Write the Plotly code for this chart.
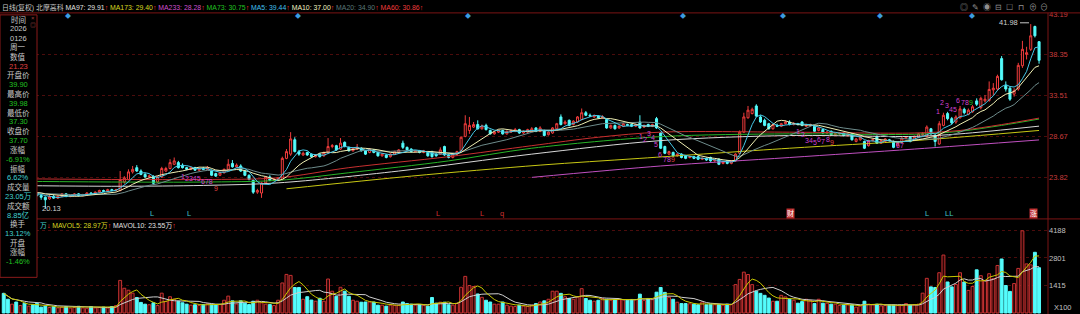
import plotly.graph_objects as go
import pandas as pd

W, H = 1080, 314

# ---------------- data ----------------
opens = [
    22.6, 22.3, 22.1, 22.3, 22.0, 22.1, 21.9, 22.1,
    22.0, 21.7, 21.5, 21.3, 21.6, 21.4, 21.6, 21.9, 21.6, 21.7,
    21.9, 21.7, 21.8, 22.0, 21.9, 22.1, 22.3, 22.2, 22.4, 22.3,
    22.3, 23.3, 23.6, 24.5, 25.0, 24.6, 24.2, 23.9, 23.97, 23.3,
    23.9, 24.6, 24.9, 25.4, 25.6, 25.3, 25.0, 24.8, 25.0, 24.7,
    24.9, 24.8, 24.6, 24.3, 24.1, 24.4, 24.8, 25.5, 25.1, 25.2,
    24.6, 24.1, 23.5, 22.1, 22.0, 23.2, 23.9, 23.5, 23.6, 23.6,
    26.1, 26.6, 28.3, 26.9, 26.5, 26.8, 26.6, 26.3, 26.6, 26.4,
    26.8, 27.5, 27.6, 27.2, 28.0, 27.4, 27.0, 27.2, 27.3, 27.0,
    26.8, 27.1, 26.8, 26.4, 26.5, 26.3, 26.6, 26.8, 27.9, 27.4,
    27.2, 26.9, 27.0, 26.8, 26.8, 26.9, 26.6, 26.6, 27.5, 26.5,
    26.2, 26.6, 27.0, 28.7, 29.4, 29.8, 30.1, 29.6, 30.0, 29.4,
    29.0, 29.2, 29.4, 29.0, 29.2, 29.3, 29.5, 29.1, 29.2, 29.3,
    29.7, 29.3, 29.4, 28.9, 29.1, 29.6, 31.0, 30.2, 30.6, 30.1,
    30.4, 30.7, 31.5, 31.2, 31.0, 31.1, 30.9, 30.7, 29.7, 30.0,
    29.7, 29.9, 30.1, 30.1, 29.9, 30.4, 29.8, 30.1, 29.9, 30.8,
    29.1, 27.5, 26.6, 26.8, 26.4, 26.6, 26.4, 26.2, 26.3, 26.3,
    26.0, 26.1, 26.2, 25.8, 26.0, 25.5, 25.8, 25.5, 25.8, 26.7,
    29.2, 30.9, 31.4, 32.3, 31.0, 30.6, 30.2, 29.6, 30.0, 29.9,
    30.2, 30.4, 30.1, 30.2, 30.4, 29.9, 30.0, 29.9, 29.4, 29.5,
    29.1, 29.3, 28.9, 29.0, 29.1, 28.8, 29.0, 28.1, 28.3, 28.1,
    27.6, 28.2, 28.7, 27.9, 28.1, 28.3, 28.1, 27.6, 28.0, 28.5,
    28.6, 28.3, 28.6, 28.9, 28.7, 29.6, 28.8, 27.8, 30.0, 31.4,
    30.8, 30.4, 30.9, 31.9, 31.3, 31.6, 32.9, 32.1, 32.9, 32.96,
    34.2, 34.3, 37.9, 34.7, 34.4, 33.7, 34.3, 37.06, 38.4, 39.0,
    41.7, 39.9,
]
highs = [
    22.8, 22.4, 22.5, 22.4, 22.3, 22.2, 22.2, 22.2,
    22.1, 21.9, 21.6, 21.8, 21.8, 21.7, 22.0, 22.0, 21.8, 22.0,
    22.0, 21.9, 22.1, 22.1, 22.2, 22.4, 22.4, 22.5, 22.5, 22.5,
    24.6, 24.0, 24.8, 25.2, 25.3, 24.8, 24.4, 24.2, 24.1, 24.0,
    25.1, 25.1, 26.0, 26.2, 25.8, 25.5, 25.1, 25.1, 25.1, 25.0,
    25.1, 25.2, 24.8, 24.4, 24.5, 24.9, 26.0, 25.9, 25.5, 25.4,
    24.7, 24.2, 23.6, 22.5, 23.3, 24.0, 24.1, 23.8, 23.9, 26.3,
    27.2, 29.2, 28.6, 27.1, 26.9, 26.9, 26.7, 26.6, 26.7, 26.9,
    28.5, 27.8, 27.7, 28.5, 28.1, 27.5, 27.4, 27.8, 27.4, 27.1,
    27.3, 27.2, 26.9, 26.7, 26.6, 26.7, 27.0, 27.2, 28.2, 27.5,
    27.3, 27.1, 27.1, 27.1, 26.9, 27.0, 26.7, 27.4, 27.6, 26.6,
    26.7, 27.0, 28.7, 31.2, 31.0, 30.4, 30.6, 30.1, 30.2, 29.5,
    29.3, 29.5, 29.5, 29.4, 29.5, 29.7, 29.6, 29.4, 29.6, 29.8,
    29.8, 29.9, 29.5, 29.3, 29.8, 30.3, 31.3, 30.6, 30.7, 30.6,
    31.1, 32.0, 31.7, 31.4, 31.3, 31.2, 31.2, 30.8, 30.1, 30.1,
    30.0, 30.3, 30.2, 30.2, 30.2, 31.2, 30.1, 30.2, 30.2, 31.0,
    29.2, 27.6, 27.0, 26.9, 26.7, 26.7, 26.5, 26.4, 26.4, 26.4,
    26.2, 26.2, 26.3, 26.0, 26.1, 25.8, 25.9, 25.9, 26.7, 29.4,
    31.5, 32.3, 32.1, 32.5, 31.2, 30.8, 30.3, 30.2, 30.2, 30.3,
    30.6, 30.6, 30.4, 30.3, 30.5, 30.2, 30.2, 30.0, 29.8, 29.6,
    29.3, 29.4, 29.1, 29.2, 29.2, 29.1, 29.1, 28.5, 28.7, 28.2,
    28.3, 28.4, 28.8, 28.3, 28.5, 28.4, 28.2, 28.1, 28.6, 28.7,
    28.7, 28.8, 29.1, 29.2, 30.0, 29.7, 29.0, 30.5, 31.5, 31.6,
    31.0, 31.2, 32.3, 32.1, 32.0, 32.4, 33.2, 33.4, 33.6, 35.2,
    35.0, 36.0, 38.2, 35.2, 34.6, 34.4, 37.4, 40.0, 39.3, 41.98,
    41.8, 39.98,
]
lows = [
    22.2, 21.9, 22.0, 21.9, 21.8, 21.8, 21.8, 21.9,
    21.6, 21.2, 20.13, 21.2, 21.3, 21.3, 21.5, 21.5, 21.5, 21.6,
    21.6, 21.6, 21.7, 21.8, 21.8, 22.0, 22.1, 22.1, 22.2, 22.2,
    22.2, 23.1, 23.5, 24.3, 24.5, 24.1, 23.8, 23.8, 23.0, 23.2,
    23.8, 24.5, 24.8, 25.3, 24.9, 24.9, 24.7, 24.7, 24.6, 24.6,
    24.7, 24.7, 24.0, 23.9, 24.0, 24.3, 24.7, 25.0, 25.0, 24.5,
    24.0, 23.5, 21.9, 21.9, 21.43, 23.1, 23.4, 23.4, 23.5, 23.5,
    26.0, 26.4, 26.8, 26.4, 26.4, 26.4, 26.2, 26.2, 26.2, 26.3,
    26.7, 27.3, 27.0, 27.1, 27.4, 26.9, 26.9, 27.1, 26.9, 26.5,
    26.7, 26.7, 26.3, 26.3, 26.1, 26.2, 26.5, 26.7, 27.2, 27.0,
    26.8, 26.8, 26.7, 26.7, 26.3, 26.2, 26.3, 26.5, 26.4, 26.1,
    26.1, 26.5, 26.9, 28.6, 29.0, 29.7, 29.5, 29.5, 29.4, 28.9,
    28.9, 29.1, 28.9, 28.9, 29.1, 29.2, 29.0, 29.0, 29.1, 29.2,
    29.2, 29.2, 28.7, 28.8, 29.0, 29.5, 30.0, 30.1, 29.9, 30.0,
    30.3, 30.6, 31.1, 31.0, 30.9, 30.8, 30.8, 29.6, 29.6, 29.5,
    29.6, 29.8, 29.9, 29.8, 29.8, 29.6, 29.7, 29.8, 29.8, 29.6,
    27.2, 26.6, 26.5, 26.3, 26.3, 26.1, 26.0, 26.1, 26.0, 25.9,
    25.9, 25.8, 25.7, 25.7, 25.3, 25.4, 25.4, 25.4, 25.7, 26.6,
    29.1, 30.8, 31.3, 31.0, 30.3, 29.9, 29.5, 29.5, 29.8, 29.8,
    30.1, 30.0, 30.0, 30.0, 29.9, 29.8, 29.9, 29.2, 29.3, 29.0,
    29.0, 28.8, 28.8, 28.9, 28.7, 28.7, 28.2, 28.0, 28.2, 27.2,
    27.5, 28.1, 27.8, 27.8, 28.0, 28.1, 27.3, 27.5, 27.9, 28.4,
    28.0, 28.2, 28.5, 28.8, 28.6, 28.9, 27.5, 27.7, 29.9, 30.6,
    30.1, 30.2, 30.8, 31.3, 31.2, 31.5, 32.3, 31.9, 32.7, 32.8,
    33.6, 34.1, 35.3, 34.0, 32.9, 33.4, 34.1, 36.8, 37.8, 38.8,
    40.4, 37.3,
]
closes = [
    22.3, 22.1, 22.3, 22.0, 22.1, 21.9, 22.1, 22.0,
    21.7, 21.5, 21.2, 21.6, 21.4, 21.6, 21.9, 21.6, 21.7, 21.9,
    21.7, 21.8, 22.0, 21.9, 22.1, 22.3, 22.2, 22.4, 22.3, 22.4,
    23.6, 23.8, 24.5, 24.8, 24.6, 24.2, 23.9, 24.0, 23.15, 23.9,
    24.9, 24.9, 25.6, 25.8, 25.0, 25.0, 24.8, 25.0, 24.7, 24.9,
    24.8, 25.0, 24.1, 24.0, 24.4, 24.8, 25.4, 25.1, 25.3, 24.6,
    24.1, 23.6, 22.1, 22.3, 23.2, 23.9, 23.5, 23.6, 23.8, 26.1,
    26.9, 28.4, 26.9, 26.6, 26.7, 26.5, 26.3, 26.5, 26.3, 26.8,
    27.5, 27.6, 27.1, 27.9, 27.5, 27.0, 27.3, 27.4, 27.0, 26.6,
    27.2, 26.8, 26.4, 26.6, 26.2, 26.6, 26.9, 27.1, 27.4, 27.1,
    26.9, 27.0, 26.8, 27.0, 26.4, 26.3, 26.4, 27.1, 26.5, 26.2,
    26.6, 26.9, 28.6, 30.2, 30.0, 30.1, 29.6, 29.9, 29.5, 29.0,
    29.2, 29.4, 29.0, 29.3, 29.4, 29.5, 29.1, 29.3, 29.5, 29.6,
    29.3, 29.7, 28.8, 29.2, 29.7, 30.2, 30.1, 30.4, 30.0, 30.5,
    31.0, 31.5, 31.2, 31.1, 31.1, 30.9, 31.0, 29.7, 30.0, 29.6,
    29.9, 30.2, 30.0, 29.9, 30.1, 29.7, 30.0, 29.9, 30.1, 29.7,
    27.3, 26.7, 26.9, 26.4, 26.6, 26.2, 26.1, 26.3, 26.1, 26.0,
    26.1, 25.9, 25.8, 25.9, 25.4, 25.7, 25.5, 25.8, 26.6, 29.2,
    31.0, 31.8, 31.9, 31.1, 30.4, 30.0, 29.6, 30.1, 29.9, 30.2,
    30.4, 30.1, 30.2, 30.1, 30.0, 30.0, 30.1, 29.3, 29.7, 29.1,
    29.2, 28.9, 29.0, 29.1, 28.8, 29.0, 28.3, 28.4, 28.6, 27.3,
    28.2, 28.3, 27.9, 28.2, 28.4, 28.2, 27.4, 28.0, 28.5, 28.6,
    28.1, 28.7, 29.0, 29.0, 29.8, 29.0, 28.1, 30.2, 31.2, 30.8,
    30.3, 31.0, 31.95, 31.5, 31.8, 32.2, 32.5, 33.2, 33.1, 34.25,
    34.4, 35.8, 35.4, 34.3, 33.1, 34.1, 37.1, 39.0, 38.6, 40.6,
    40.6, 37.7,
]
volumes = [  # lots (x100 shares)
    1000, 700, 450, 560, 380, 500, 350, 420,
    490, 300, 350, 280, 320, 260, 300, 330, 250, 280,
    340, 260, 240, 330, 260, 280, 300, 250, 330, 380,
    1660, 1260, 1160, 1010, 790, 540, 450, 420, 520, 380,
    1010, 600, 830, 700, 600, 520, 450, 400, 420, 380,
    430, 470, 440, 420, 430, 650, 860, 620, 460, 620,
    500, 430, 600, 650, 520, 450, 430, 380, 650, 1530,
    1965, 1915, 1300, 1300, 700, 830, 660, 600, 750, 600,
    1730, 1110, 850, 1310, 1110, 850, 650, 600, 550, 560,
    560, 560, 400, 400, 350, 400, 380, 400, 560, 480,
    450, 400, 420, 380, 350, 790, 500, 550, 550, 420,
    400, 500, 1310, 1865, 1400, 1350, 970, 800, 650, 560,
    450, 450, 560, 400, 350, 330, 400, 350, 330, 400,
    480, 560, 620, 700, 1110, 1110, 1000, 830, 740, 700,
    820, 1240, 740, 650, 600, 650, 740, 700, 650, 690,
    690, 670, 650, 690, 680, 960, 640, 740, 680, 1060,
    1300, 1050, 800, 700, 550, 480, 480, 470, 450, 420,
    560, 420, 450, 420, 430, 400, 450, 430, 1445, 1710,
    2080, 1960, 1445, 1110, 1000, 900, 760, 600, 600, 900,
    820, 700, 650, 500, 580, 700, 640, 480, 700, 500,
    500, 450, 450, 380, 400, 420, 420, 300, 350, 600,
    450, 420, 450, 360, 380, 400, 400, 380, 380, 480,
    400, 420, 450, 1010, 1765, 1330, 1300, 2050, 2950, 1580,
    1330, 1450, 2050, 1580, 1150, 1350, 2200, 1900, 1650, 2000,
    1750, 2420, 2750, 1400, 1100, 1500, 2270, 4185, 2500, 2450,
    3090, 2305,
]

# long moving averages (history starts before the visible window): hand-read points
ma60_idx = [0, 28, 48, 66, 83, 107, 127, 143, 158, 189, 219, 230, 240, 249]
ma60_val = [23.7, 23.6, 23.6, 23.8, 25.0, 26.3, 27.6, 28.6, 29.2, 29.2, 29.1, 29.4, 30.1, 30.86]
ma73_idx = [0, 28, 48, 66, 83, 107, 127, 158, 189, 219, 230, 240, 249]
ma73_val = [23.4, 23.3, 23.3, 23.5, 24.4, 25.8, 27.3, 28.67, 29.0, 28.95, 29.3, 30.0, 30.75]
ma97_idx = [0, 28, 48, 66, 95, 127, 158, 189, 219, 230, 249]
ma97_val = [22.9, 22.8, 22.9, 23.2, 24.6, 26.6, 28.2, 28.8, 28.7, 29.0, 29.91]
ma173_idx = [68, 98, 129, 153, 189, 219, 249]
ma173_val = [22.5, 24.0, 25.3, 26.1, 27.3, 28.2, 29.40]
ma233_idx = [127, 158, 189, 219, 249]
ma233_val = [23.85, 25.2, 26.2, 27.2, 28.28]

price_ticks = [23.82, 28.67, 33.51, 38.35, 43.19]
vol_ticks = [1415, 2801, 4188]

legend_items = [
    ("MA97", "29.91", "#e0e0e0"), ("MA173", "29.40", "#d8d820"), ("MA233", "28.28", "#d050d0"),
    ("MA73", "30.75", "#20c020"), ("MA5", "39.44", "#40c0f0"), ("MA10", "37.00", "#f0f0c0"),
    ("MA20", "34.90", "#5a7878"), ("MA60", "30.86", "#f03c3c"),
]
vol_legend = [("MAVOL5", "28.97万", "#d8d820"), ("MAVOL10", "23.55万", "#e0e0e0")]
info_rows = [
    ("时间", "#c8c8c8"), ("2026", "#c8c8c8"), ("0126", "#c8c8c8"), ("周一", "#c8c8c8"),
    ("数值", "#c8c8c8"), ("21.23", "#e04040"), ("开盘价", "#c8c8c8"), ("39.90", "#20c020"),
    ("最高价", "#c8c8c8"), ("39.98", "#20c020"), ("最低价", "#c8c8c8"), ("37.30", "#20c020"),
    ("收盘价", "#c8c8c8"), ("37.70", "#20c020"), ("涨幅", "#c8c8c8"), ("-6.91%", "#20c020"),
    ("振幅", "#c8c8c8"), ("6.62%", "#40d0d0"), ("成交量", "#c8c8c8"), ("23.05万", "#40d0d0"),
    ("成交额", "#c8c8c8"), ("8.85亿", "#40d0d0"), ("换手", "#c8c8c8"), ("13.12%", "#40d0d0"),
    ("开盘", "#c8c8c8"), ("涨幅", "#c8c8c8"), ("-1.46%", "#20c020"),
]

# ---------------- figure ----------------
N = len(closes)
idx = list(range(N))
cs = pd.Series(closes)
ma5 = cs.rolling(5, min_periods=1).mean()
ma10 = cs.rolling(10, min_periods=1).mean()
ma20 = cs.rolling(20, min_periods=1).mean()
vs = pd.Series(volumes)
mavol5 = vs.rolling(5, min_periods=1).mean()
mavol10 = vs.rolling(10, min_periods=1).mean()

RED = "#f03c3c"
CYAN = "#54fcfc"
FONT = "Liberation Sans, Arial, Noto Sans CJK SC, sans-serif"
up = [c >= o for o, c in zip(opens, closes)]


def px(x):
    return x / W


def py(y):
    return 1 - y / H


fig = go.Figure()
fig.add_trace(go.Candlestick(
    x=idx, open=opens, high=highs, low=lows, close=closes,
    increasing=dict(line=dict(color=RED, width=1), fillcolor="#000000"),
    decreasing=dict(line=dict(color=CYAN, width=1), fillcolor=CYAN),
    whiskerwidth=0, hoverinfo="skip", xaxis="x", yaxis="y"))

for xs, ys, col in [
    (ma233_idx, ma233_val, "#c050c0"), (ma173_idx, ma173_val, "#c8c814"),
    (ma97_idx, ma97_val, "#d8d8d8"), (ma73_idx, ma73_val, "#28b428"),
    (ma60_idx, ma60_val, "#c83030"),
]:
    fig.add_trace(go.Scatter(x=xs, y=ys, mode="lines", hoverinfo="skip",
                             line=dict(color=col, width=1, shape="spline", smoothing=0.9),
                             xaxis="x", yaxis="y"))
for ser, col in [(ma20, "#6e8c8c"), (ma10, "#f0f0b4"), (ma5, "#46c8e8")]:
    fig.add_trace(go.Scatter(x=idx, y=ser, mode="lines", hoverinfo="skip",
                             line=dict(color=col, width=1), xaxis="x", yaxis="y"))

fig.add_trace(go.Bar(
    x=idx, y=volumes, hoverinfo="skip", xaxis="x2", yaxis="y2",
    marker=dict(color=["#2a0606" if u else CYAN for u in up],
                line=dict(color=["#c83232" if u else CYAN for u in up], width=1))))
fig.add_trace(go.Scatter(x=idx, y=mavol10, mode="lines", hoverinfo="skip",
                         line=dict(color="#d0d0d0", width=1), xaxis="x2", yaxis="y2"))
fig.add_trace(go.Scatter(x=idx, y=mavol5, mode="lines", hoverinfo="skip",
                         line=dict(color="#c8c800", width=1), xaxis="x2", yaxis="y2"))

x_range = [-0.898, 251.15]
grid = "#4c0c0c"
fig.update_layout(
    width=W, height=H, margin=dict(l=0, r=0, t=0, b=0),
    paper_bgcolor="#000000", plot_bgcolor="#000000", showlegend=False,
    bargap=0.3, font=dict(family=FONT, size=7.5, color="#c8c8c8"),
    xaxis=dict(domain=[0, px(1048)], range=x_range, visible=False,
               rangeslider=dict(visible=False), anchor="y"),
    xaxis2=dict(domain=[0, px(1048)], range=x_range, visible=False,
                matches="x", anchor="y2"),
    yaxis=dict(domain=[py(218), py(10)], range=[18.937, 43.307], side="right",
               tickvals=price_ticks, ticktext=[f"{v:.2f}" for v in price_ticks],
               tickfont=dict(color="#c83c3c", size=7.5, family=FONT),
               showgrid=True, gridcolor=grid, griddash="dot", gridwidth=1,
               zeroline=False, ticks="", anchor="x"),
    yaxis2=dict(domain=[0, py(218)], range=[-50.4, 4790], side="right",
                tickvals=vol_ticks, ticktext=[str(v) for v in vol_ticks],
                tickfont=dict(color="#c0c0c0", size=7.5, family=FONT),
                showgrid=True, gridcolor=grid, griddash="dot", gridwidth=1,
                zeroline=False, ticks="", anchor="x2"),
)

line_col = "#7a1414"
shapes = [
    dict(type="line", xref="paper", yref="paper", x0=0, x1=1, y0=py(10), y1=py(10),
         line=dict(color=line_col, width=1)),
    dict(type="line", xref="paper", yref="paper", x0=0, x1=1, y0=py(218), y1=py(218),
         line=dict(color=line_col, width=1)),
    dict(type="line", xref="paper", yref="paper", x0=px(1048), x1=px(1048), y0=0, y1=py(10),
         line=dict(color=line_col, width=1)),
    dict(type="rect", xref="paper", yref="paper", x0=0, x1=px(37), y0=py(277), y1=py(12),
         fillcolor="#000000", line=dict(color="#8a1a1a", width=1), layer="above"),
    dict(type="line", xref="paper", yref="paper", x0=px(1020), x1=px(1029), y0=py(20), y1=py(20),
         line=dict(color="#c8c8c8", width=1), layer="above"),
]
fig.update_layout(shapes=shapes)

ann = []


def text(x, y, s, color="#c8c8c8", size=7.5, xanchor="left", bg=None):
    d = dict(x=px(x), y=py(y), xref="paper", yref="paper", text=s, showarrow=False,
             xanchor=xanchor, yanchor="middle", font=dict(color=color, size=size, family=FONT))
    if bg:
        d.update(bgcolor=bg, borderpad=0)
    ann.append(d)


UP = "<span style='color:#ff3030'>↑</span>"
# title row: one text line with coloured parts
title = "日线(复权) 北摩高科 " + " ".join(
    f"<span style='color:{c}'>{n}: {v}</span>{UP}" for n, v, c in legend_items)
text(0, 5, title, "#c8c8c8", 6.9)

# toolbar icons
for x, ch in zip([964, 975, 987, 998, 1009, 1021, 1033, 1044],
                 ["◎", "✎", "◉", "⊟", "☐", "⊓", "⊕", "⊖"]):
    text(x, 5, ch, "#909090", 8, "center")

# blue diamonds
for x in [68, 298, 468, 683, 783, 880, 972]:
    text(x, 13, "◆", "#3c9ce0", 6, "center")

# info panel
for k, (s, col) in enumerate(info_rows):
    text(18, 16.7 + k * 9.4, s, col, 7.5, "center")
text(33, 15, "×", "#a04040", 6, "center")
text(33, 22, "◎", "#a04040", 6, "center")

# volume legend
vol_title = "<span style='color:#40d0d0'>万</span><span style='color:#ff3030'>↓</span> " + " ".join(
    f"<span style='color:{c}'>{n}: {v}</span>{UP}" for n, v, c in vol_legend)
text(38, 225, vol_title, "#c8c8c8", 6.9)
text(1052, 307, "X100", "#c0c0c0")

# price labels
text(1020, 20, "41.98", "#d0d0d0", 7.5, "right")
text(40, 207, "20.13", "#d0d0d0")

# signal letters
for x, s, col in [(152, "L", "#40c8c8"), (189, "L", "#40c8c8"), (438, "L", "#d03030"),
                  (482, "L", "#d03030"), (502, "q", "#d03030"), (927, "L", "#40c8c8"),
                  (949, "LL", "#40c8c8")]:
    text(x, 213, s, col, 7.5, "center")
text(790, 213, "财", "#ffffff", 7, "center", bg="#c03030")
text(1033, 213, "涨", "#ffffff", 7, "center", bg="#c03030")

# sequence counters
MAG = "#d040d0"
for x, y, s, col in [
    (183, 175, "1", MAG), (193, 177, "2345", MAG), (207, 180, "678", MAG), (216, 187, "9", "#e04040"),
    (641, 135, "1", MAG), (645, 138, "2", MAG), (649, 132, "3", MAG), (653, 136, "4", MAG),
    (656, 143, "5", MAG), (660, 153, "6", MAG), (665, 158, "7", MAG), (669, 158, "8", MAG),
    (673, 158, "9", "#e04040"),
    (798, 130, "1", MAG), (803, 133, "2", MAG), (807, 139, "3", MAG), (811, 139, "4", MAG),
    (815, 141, "5", MAG), (819, 138, "6", MAG), (823, 140, "7", MAG), (828, 138, "8", MAG),
    (832, 141, "9", "#e04040"), (868, 142, "7", MAG), (900, 144, "67", MAG),
    (938, 110, "1", MAG), (942, 100, "2", MAG), (947, 103, "3", MAG), (953, 108, "45", MAG),
    (958, 98, "6", MAG), (965, 100, "78", MAG), (971, 100, "9", "#20c020"),
]:
    text(x, y, s, col, 7, "center")

fig.update_layout(annotations=ann)
fig.write_html("out.html")
